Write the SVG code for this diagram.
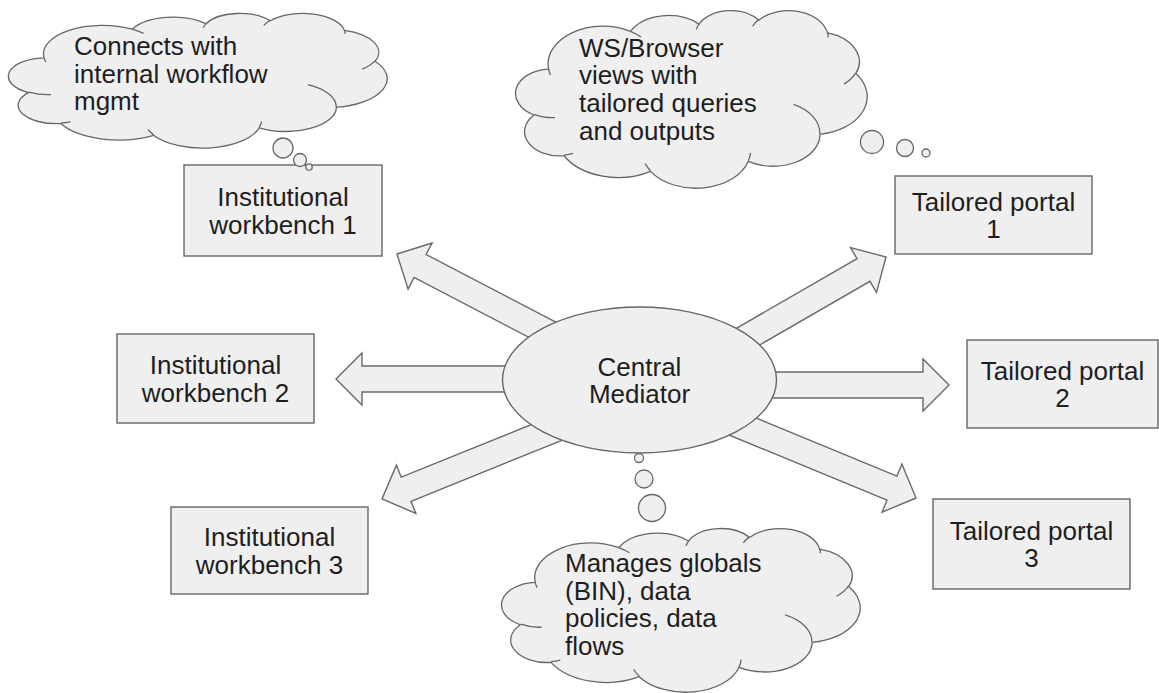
<svg xmlns="http://www.w3.org/2000/svg" xmlns:xlink="http://www.w3.org/1999/xlink" width="1159" height="693" viewBox="0 0 1159 693">
<style>
.shape{fill:#efefef;stroke:#666;stroke-width:1.4}
.cl{fill:#efefef;stroke:#666;stroke-width:1.3}
.inner{fill:none;stroke:#666;stroke-width:1.3}
.arrow{fill:#efefef;stroke:#6a6a6a;stroke-width:1.4;stroke-linejoin:miter}
.t{font-family:"Liberation Sans",Arial,Helvetica,sans-serif;font-size:26px;fill:#1e1e1e}
.c{text-anchor:middle}
</style>
<defs>
<g id="cloud">
<path class="cl" vector-effect="non-scaling-stroke" d="M39,143.7 A67.53,91.9 0 0 1 140.06,52.03 A53.33,72.67 0 0 1 224.58,34.34 A43.65,59.45 0 0 1 298.36,24.83 A48.57,65.95 0 0 1 383.2,55.8 A53.33,72.73 0 0 1 418.2,154.64 A67.75,92.2 0 0 1 374.06,302.06 A57.85,78.67 0 0 1 285.57,368.16 A67.52,92.15 0 0 1 164.78,392.59 A77.2,105.43 0 0 1 58,354.63 A43.6,59.18 0 0 1 21.08,255.44 A43.45,59.45 0 0 1 39,143.7 Z"/>
<path class="inner" vector-effect="non-scaling-stroke" d="M46.93,261.77 A43.45,59.45 0 0 1 21.59,253.79 M69.28,348.99 A43.6,59.18 0 0 1 58.19,352.81 M164.78,390.9 A67.52,92.15 0 0 1 158.14,373.58 M288.27,347.51 A67.52,92.15 0 0 1 285.6,366.6 M341.29,229.54 A57.85,78.67 0 0 1 373.8,300.9 M417.98,153.54 A53.33,72.73 0 0 1 403.5,180.3 M383.24,54.26 A48.57,65.95 0 0 1 384,66.9 M290.78,39.52 A48.57,65.95 0 0 1 298.21,23.37 M221.41,47.2 A43.65,59.45 0 0 1 225,33.3 M140,51.92 A67.53,91.9 0 0 1 153.02,65.43 M41.27,157.89 A67.53,91.9 0 0 1 39,143.7"/>
</g>
</defs>
<rect width="1159" height="693" fill="#ffffff"/>

<g id="connectors">
<polygon class="arrow" points="580.4,334.9 426.1,254.5 432.1,243 397,254 408.1,289.1 414.1,277.5 568.4,357.9"/>
<polygon class="arrow" points="575,366 362,366 362,353 336,379 362,405 362,392 575,392"/>
<polygon class="arrow" points="562.5,412 401.2,477.2 396.4,465.2 382,499 415.9,513.4 411,501.3 572.3,436.1"/>
<polygon class="arrow" points="715,340.7 857,258.7 850.5,247.5 886,257 876.5,292.5 870,281.3 728,363.3"/>
<polygon class="arrow" points="705,372 923,372 923,359 949,385 923,411 923,398 705,398"/>
<polygon class="arrow" points="726.9,406 896.9,476.1 901.9,464.1 916,498 882.1,512.1 887,500.1 716.9,430"/>
</g>

<g id="central-mediator">
<ellipse class="shape" cx="639.5" cy="380" rx="137" ry="73"/>
<text class="t c" x="639.5" y="375.5">Central</text>
<text class="t c" x="639.5" y="403.2">Mediator</text>
</g>

<g id="institutional-workbench-1">
<rect class="shape" x="184" y="165" width="198" height="91"/>
<text class="t c" x="283" y="206">Institutional</text>
<text class="t c" x="283" y="233.7">workbench 1</text>
</g>

<g id="institutional-workbench-2">
<rect class="shape" x="117" y="334" width="197" height="89"/>
<text class="t c" x="215.5" y="374">Institutional</text>
<text class="t c" x="215.5" y="401.7">workbench 2</text>
</g>

<g id="institutional-workbench-3">
<rect class="shape" x="171" y="507" width="197" height="87"/>
<text class="t c" x="269.5" y="546">Institutional</text>
<text class="t c" x="269.5" y="573.7">workbench 3</text>
</g>

<g id="tailored-portal-1">
<rect class="shape" x="895" y="176" width="197" height="78"/>
<text class="t c" x="993.5" y="210.5">Tailored portal</text>
<text class="t c" x="993.5" y="238.2">1</text>
</g>

<g id="tailored-portal-2">
<rect class="shape" x="967" y="340" width="191" height="88"/>
<text class="t c" x="1062.5" y="379.5">Tailored portal</text>
<text class="t c" x="1062.5" y="407.2">2</text>
</g>

<g id="tailored-portal-3">
<rect class="shape" x="933" y="499" width="197" height="90"/>
<text class="t c" x="1031.5" y="539.5">Tailored portal</text>
<text class="t c" x="1031.5" y="567.2">3</text>
</g>

<g id="cloud-workflow">
<use xlink:href="#cloud" href="#cloud" transform="translate(10,13) scale(0.8727,0.3118)"/>
<circle class="cl" cx="283" cy="148" r="10"/>
<circle class="cl" cx="300" cy="160" r="6.5"/>
<circle class="cl" cx="309" cy="167" r="3.2"/>
<text class="t" x="74" y="55">Connects with</text>
<text class="t" x="74" y="82.7">internal workflow</text>
<text class="t" x="74" y="110.4">mgmt</text>
</g>

<g id="cloud-browser">
<use xlink:href="#cloud" href="#cloud" transform="translate(517,10) scale(0.8102,0.4111)"/>
<circle class="cl" cx="872" cy="142" r="11.5"/>
<circle class="cl" cx="905" cy="148" r="8.5"/>
<circle class="cl" cx="926" cy="153" r="4"/>
<text class="t" x="579" y="56.5">WS/Browser</text>
<text class="t" x="579" y="84.2">views with</text>
<text class="t" x="579" y="111.9">tailored queries</text>
<text class="t" x="579" y="139.6">and outputs</text>
</g>

<g id="cloud-globals">
<use xlink:href="#cloud" href="#cloud" transform="translate(503,528) scale(0.8264,0.3788)"/>
<circle class="cl" cx="639" cy="458" r="4.5"/>
<circle class="cl" cx="644" cy="479" r="9"/>
<circle class="cl" cx="652" cy="508" r="13.5"/>
<text class="t" x="565" y="572">Manages globals</text>
<text class="t" x="565" y="599.7">(BIN), data</text>
<text class="t" x="565" y="627.4">policies, data</text>
<text class="t" x="565" y="655.1">flows</text>
</g>
</svg>
